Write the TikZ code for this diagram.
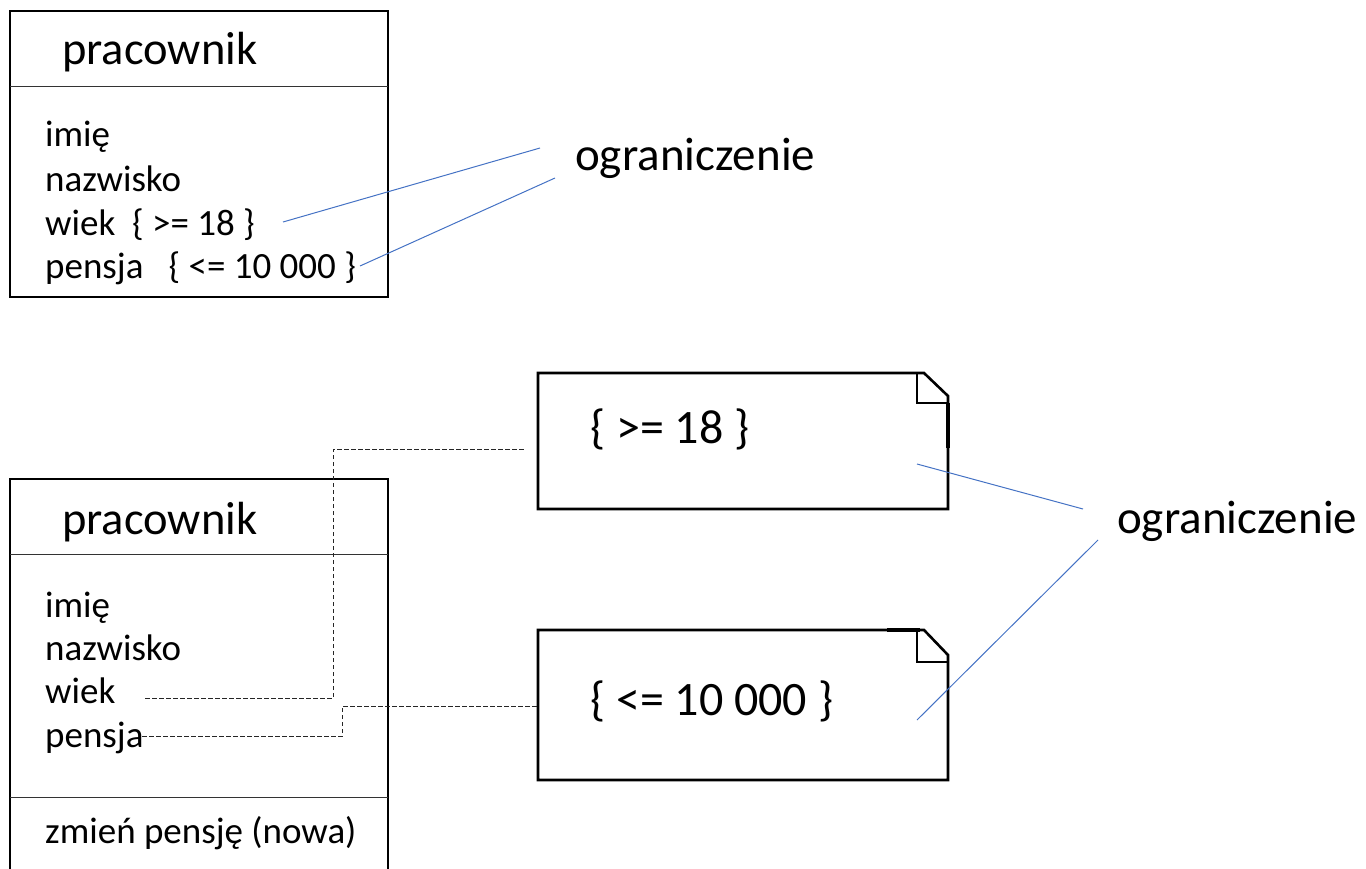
\documentclass[tikz,border=0pt]{standalone}
\usepackage{fontspec}
\setmainfont{Carlito}
\begin{document}
\begin{tikzpicture}[x=1pt,y=-1pt,
  boxline/.style={draw=black,line width=2pt},
  divline/.style={draw=black!80,line width=0.9pt},
  noteline/.style={draw=black,line width=2.6pt,line join=miter},
  bluelink/.style={draw={rgb,255:red,68;green,114;blue,196},line width=1pt},
  dashlink/.style={draw=black!85,line width=1pt,dash pattern=on 4.5pt off 2.5pt},
  title/.style={anchor=base west,inner sep=0pt,font=\fontsize{46.5}{55}\selectfont},
  attr/.style={anchor=base west,inner sep=0pt,font=\fontsize{37}{44}\selectfont},
  label/.style={anchor=base west,inner sep=0pt,font=\fontsize{47}{56}\selectfont},
  notetext/.style={anchor=base west,inner sep=0pt,font=\fontsize{48}{57}\selectfont}]
\useasboundingbox (0,0) rectangle (1366,868);
\clip (0,0) rectangle (1366,868);

% ---- upper class box with inline constraints
\draw[boxline] (10,11) rectangle (388,297);
\draw[divline] (10,86) -- (388,86);
\node[title] (t1) at (62,64) {pracownik};
\node[attr] (a1) at (45,146) {imię};
\node[attr] (a2) at (45,191) {nazwisko};
\node[attr] (a3) at (45,235) {wiek\ \ \{ >= 18 \}};
\node[attr] (a4) at (45,278) {pensja\ \ \ \{ <= 10 000 \}};
\node[label] (ogr1) at (575,170) {ograniczenie};
\coordinate (c1a) at (283,222);
\coordinate (c1b) at (540,148);
\coordinate (c2a) at (360,266);
\coordinate (c2b) at (555,178);
\draw[bluelink] (c1a) -- (c1b);
\draw[bluelink] (c2a) -- (c2b);

% ---- lower class box
\draw[boxline] (10,900) -- (10,479) -- (388,479) -- (388,900);
\draw[divline] (10,554) -- (388,554);
\draw[divline] (10,797) -- (388,797);
\node[title] (t2) at (62,534) {pracownik};
\node[attr] (b1) at (45,617) {imię};
\node[attr] (b2) at (45,660) {nazwisko};
\node[attr] (b3) at (45,703) {wiek};
\node[attr] (b4) at (45,747) {pensja};
\node[attr] (b5) at (45,843) {zmień pensję (nowa)};

% ---- note: { >= 18 }
\draw[noteline] (538,373) -- (924,373) -- (948,396) -- (948,509) -- (538,509) -- cycle;
\draw[noteline] (917,373) -- (917,403) -- (948,403);
\draw[draw=black,line width=3.6pt] (948,403) -- (948,448);
\node[notetext] (n1) at (590,443) {\{ >= 18 \}};

% ---- note: { <= 10 000 }
\draw[noteline] (538,630) -- (924,630) -- (948,655) -- (948,780) -- (538,780) -- cycle;
\draw[noteline] (917,630) -- (917,662) -- (948,662);
\draw[draw=black,line width=3.6pt] (887,630) -- (920,630);
\node[notetext] (n2) at (590,715) {\{ <= 10 000 \}};

% ---- dashed links from attributes to the notes
\coordinate (w0) at (145,698);
\coordinate (w1) at (333,698);
\coordinate (w2) at (333,449);
\coordinate (w3) at (525,449);
\draw[dashlink] (w0) -- (w1) -- (w2) -- (w3);
\coordinate (p0) at (142,736);
\coordinate (p1) at (342,736);
\coordinate (p2) at (342,706);
\coordinate (p3) at (537,706);
\draw[dashlink] (p0) -- (p1) -- (p2) -- (p3);

% ---- label for both notes
\node[label] (ogr2) at (1117,533) {ograniczenie};
\coordinate (d1a) at (917,464);
\coordinate (d1b) at (1083,509);
\coordinate (d2a) at (1098,540);
\coordinate (d2b) at (917,720);
\draw[bluelink] (d1a) -- (d1b);
\draw[bluelink] (d2a) -- (d2b);
\end{tikzpicture}
\end{document}
